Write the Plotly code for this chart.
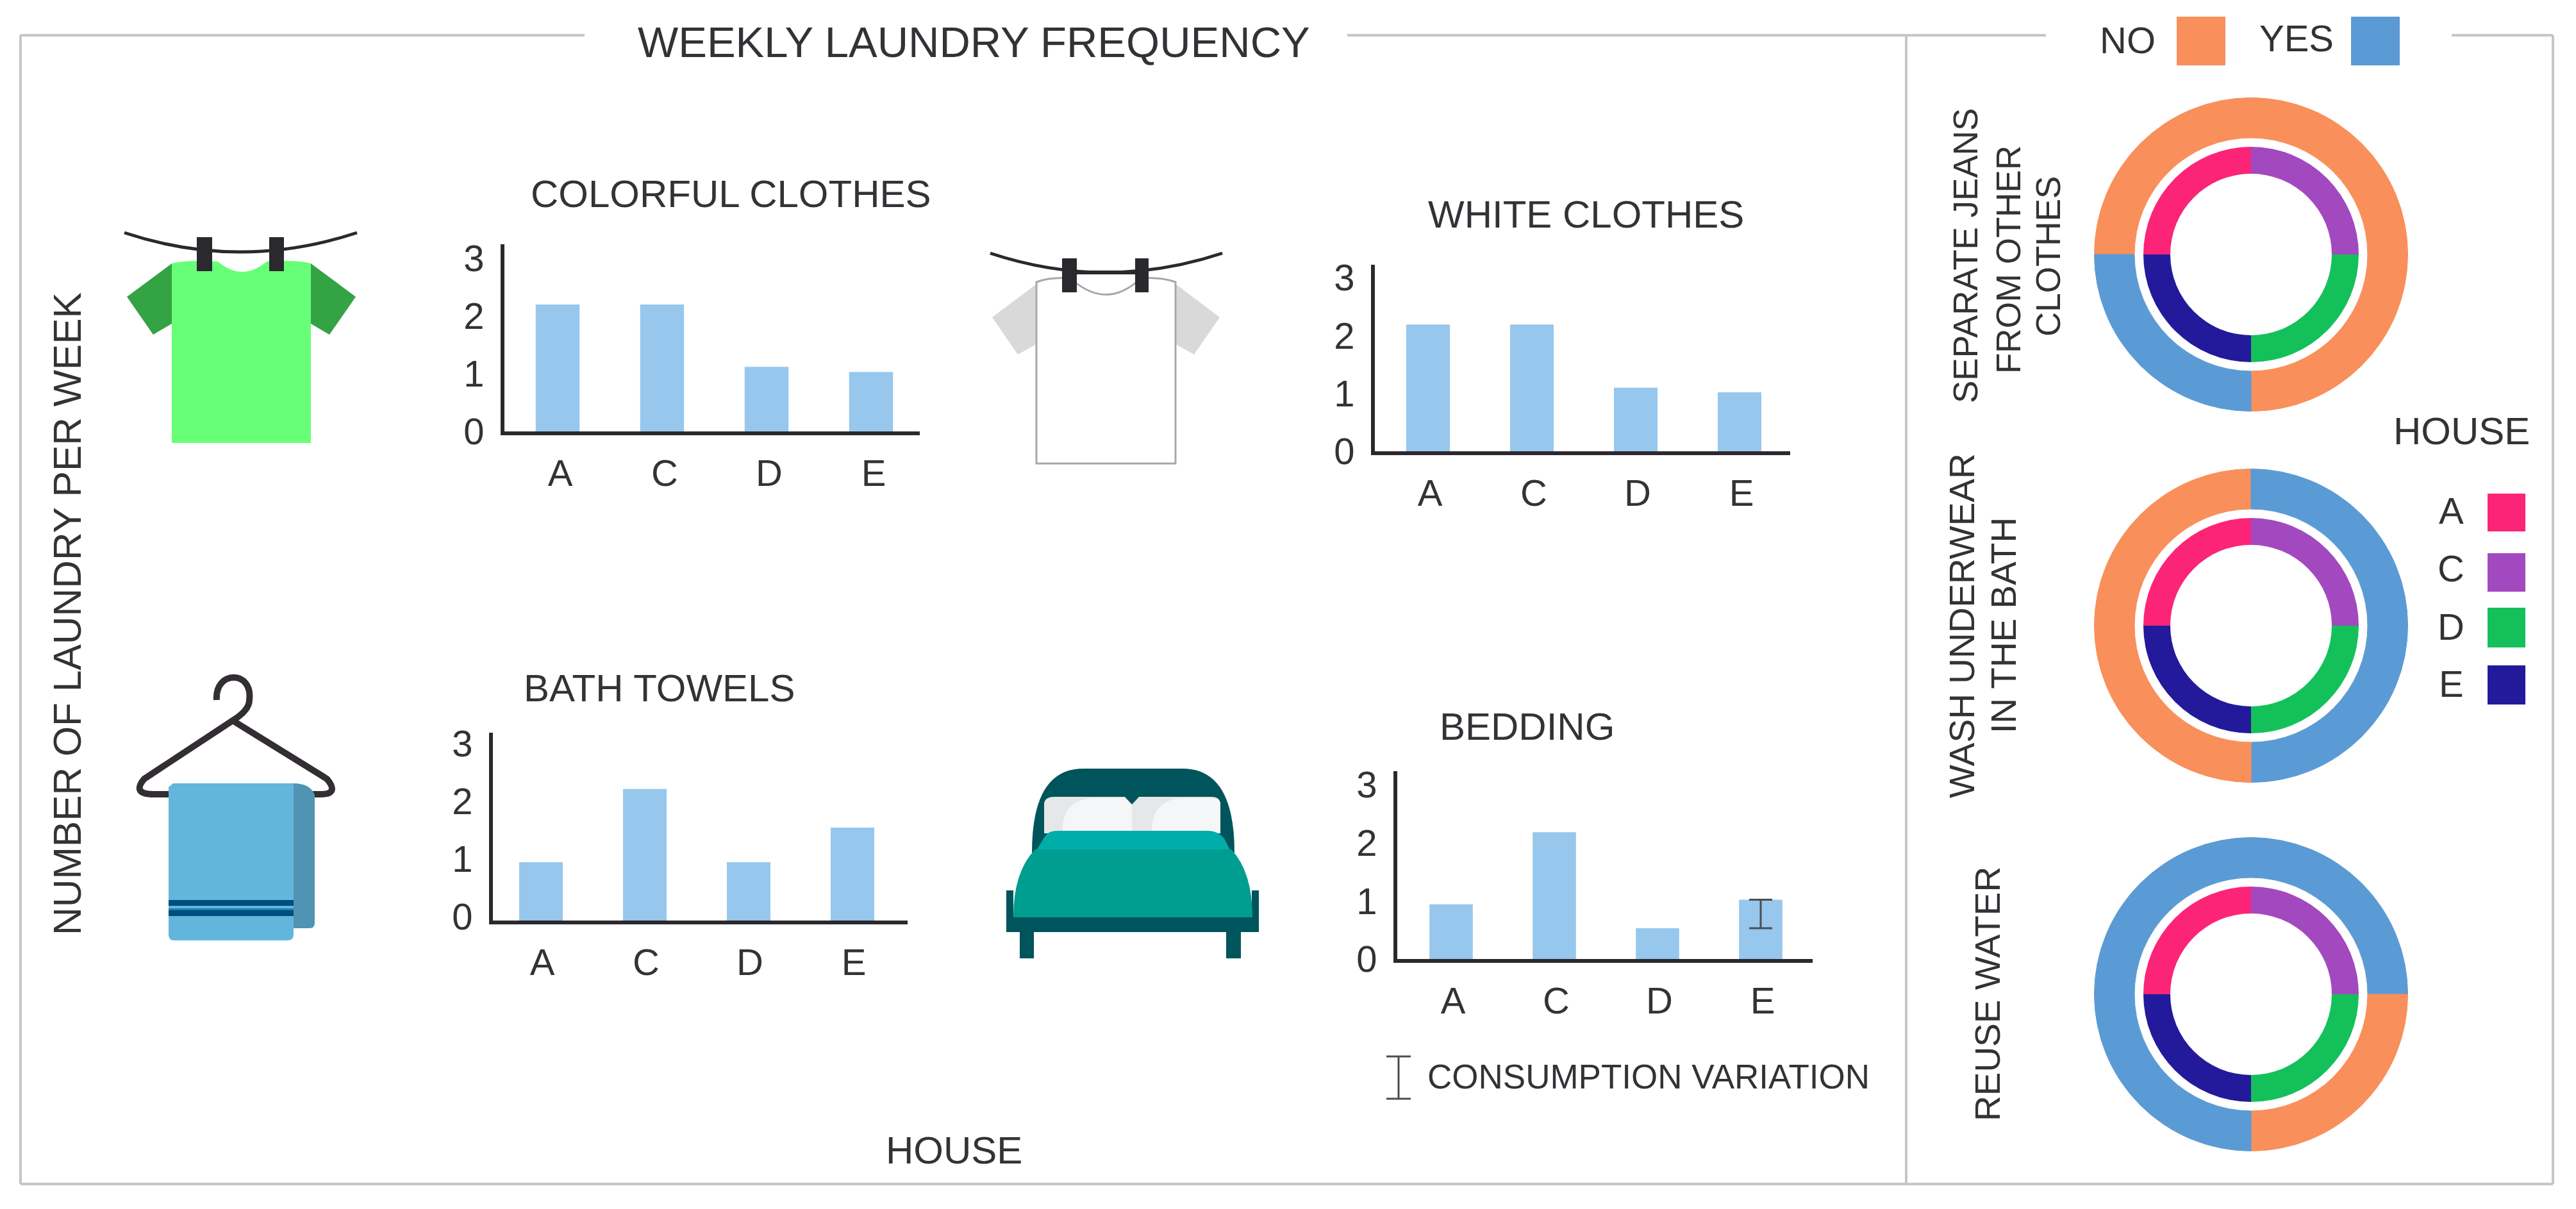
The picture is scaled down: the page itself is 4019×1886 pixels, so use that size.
import plotly.graph_objects as go

W, H = 4019, 1886

# ---------- data ----------
HOUSES = ["A", "C", "D", "E"]
TICKS = [0, 1, 2, 3]
COLORFUL_CLOTHES = [2.20, 2.20, 1.12, 1.03]
WHITE_CLOTHES = [2.19, 2.19, 1.10, 1.02]
BATH_TOWELS = [1.01, 2.28, 1.01, 1.61]
BEDDING = [0.94, 2.18, 0.53, 1.02]
VARIATION_HOUSE = ["E"]
VARIATION_TOP = [1.02]
VARIATION_DOWN = [0.49]
VARIATION_UP = [0.0]

HOUSE_SHARE = [1, 1, 1, 1]
SEPARATE_JEANS = ["NO", "NO", "NO", "YES"]
WASH_UNDERWEAR = ["NO", "YES", "YES", "NO"]
REUSE_WATER = ["YES", "YES", "NO", "YES"]

# ---------- styles ----------
INK = "#333236"
AXIS = "#2b292d"
BAR = "#97c7ec"
FRAME = "#c6c6c6"
ANSWER_COLOR = {"NO": "#f98f5b", "YES": "#5b9bd5"}
HOUSE_COLOR = ["#fc2477", "#a349bf", "#14c05a", "#221a9b"]
FONT = "Liberation Sans"


def nx(x):
    return x / W


def ny(y):
    return 1 - y / H


def pt(x, y):
    return f"{nx(x):.6f},{ny(y):.6f}"


shapes = []


def rect(x0, y0, x1, y1, color):
    shapes.append(dict(type="rect", xref="paper", yref="paper", x0=nx(x0), x1=nx(x1),
                       y0=ny(y1), y1=ny(y0), fillcolor=color, line=dict(width=0)))


def line(x0, y0, x1, y1, color, width):
    shapes.append(dict(type="line", xref="paper", yref="paper", x0=nx(x0), x1=nx(x1),
                       y0=ny(y0), y1=ny(y1), line=dict(color=color, width=width)))


def path(cmds, fill=None, stroke=None, width=0):
    """cmds: list of (letter, x, y, ...) in pixels."""
    parts = []
    for c in cmds:
        if c[0] == "Z":
            parts.append("Z")
            continue
        coords = c[1:]
        if c[0] == "L":
            for i in range(0, len(coords), 2):
                parts.append("L" + pt(coords[i], coords[i + 1]))
            continue
        pairs = " ".join(pt(coords[i], coords[i + 1]) for i in range(0, len(coords), 2))
        parts.append(f"{c[0]}{pairs}")
    shapes.append(dict(type="path", xref="paper", yref="paper", path=" ".join(parts),
                       fillcolor=fill if fill else "rgba(0,0,0,0)",
                       line=dict(color=stroke if stroke else "rgba(0,0,0,0)", width=width)))


annotations = []


def label(text, x, y, size, angle=0):
    annotations.append(dict(text=text, x=nx(x), y=ny(y), xref="paper", yref="paper",
                            xanchor="center", yanchor="middle", showarrow=False,
                            textangle=angle, font=dict(family=FONT, size=size, color=INK)))


# ---------- frame ----------
line(32, 55, 912, 55, FRAME, 4)
line(2102, 55, 3192, 55, FRAME, 4)
line(3825, 55, 3983, 55, FRAME, 4)
line(32, 55, 32, 1847, FRAME, 4)
line(3983, 55, 3983, 1847, FRAME, 4)
line(32, 1847, 3983, 1847, FRAME, 4)
line(2974, 55, 2974, 1847, FRAME, 4)

# ---------- bar panels ----------
panels = [
    dict(name="COLORFUL CLOTHES", values=COLORFUL_CLOTHES, x0=787, x1=1435, top=381, base=673, unit=90.0,
         c0=870, step=163, shift=4, yshift=0, tx=1140, ty=302),
    dict(name="WHITE CLOTHES", values=WHITE_CLOTHES, x0=2145, x1=2793, top=413, base=704, unit=90.3,
         c0=2228, step=162, shift=3, yshift=0, tx=2474, ty=334),
    dict(name="BATH TOWELS", values=BATH_TOWELS, x0=769, x1=1416, top=1143, base=1436, unit=90.0,
         c0=844, step=162, shift=2, yshift=6, tx=1028, ty=1073),
    dict(name="BEDDING", values=BEDDING, x0=2180, x1=2828, top=1203, base=1496, unit=90.7,
         c0=2264, step=161, shift=3, yshift=0, tx=2382, ty=1133),
]

fig = go.Figure()
layout_axes = {}
for i, p in enumerate(panels, start=1):
    sfx = "" if i == 1 else str(i)
    fig.add_trace(go.Bar(x=HOUSES, y=p["values"], name=p["name"], width=0.42,
                         marker=dict(color=BAR, line=dict(width=0)),
                         xaxis=f"x{sfx}", yaxis=f"y{sfx}", hoverinfo="skip"))
    if p["name"] == "BEDDING":
        fig.add_trace(go.Scatter(x=VARIATION_HOUSE, y=VARIATION_TOP, mode="markers",
                                 marker=dict(size=1, opacity=0), hoverinfo="skip",
                                 xaxis=f"x{sfx}", yaxis=f"y{sfx}",
                                 error_y=dict(type="data", symmetric=False, array=VARIATION_UP,
                                              arrayminus=VARIATION_DOWN, color="#4d4d50",
                                              thickness=3, width=18)))
    layout_axes[f"xaxis{sfx}"] = dict(
        domain=[nx(p["x0"]), nx(p["x1"])], anchor=f"y{sfx}", type="category",
        categoryorder="array", categoryarray=HOUSES,
        range=[(p["x0"] - p["c0"]) / p["step"], (p["x1"] - p["c0"]) / p["step"]],
        showline=True, linecolor=AXIS, linewidth=6, showgrid=False, zeroline=False,
        ticks="outside", ticklen=9, tickcolor="rgba(0,0,0,0)", ticklabelshift=p["shift"],
        tickfont=dict(family=FONT, size=58, color=INK))
    layout_axes[f"yaxis{sfx}"] = dict(
        domain=[ny(p["base"]), ny(p["top"])], anchor=f"x{sfx}",
        range=[0, (p["base"] - p["top"]) / p["unit"]], tickmode="array", tickvals=TICKS,
        ticktext=[str(t) for t in TICKS],
        showline=True, linecolor=AXIS, linewidth=6, showgrid=False, zeroline=False,
        ticks="outside", ticklen=14, tickcolor="rgba(0,0,0,0)", ticklabelshift=-p["yshift"],
        tickfont=dict(family=FONT, size=58, color=INK))
    label(p["name"], p["tx"], p["ty"], 60)

# ---------- donuts ----------
donuts = [(SEPARATE_JEANS, 397), (WASH_UNDERWEAR, 976), (REUSE_WATER, 1551)]
CX = 3512
for answers, cy in donuts:
    R = 244.5
    colors = [ANSWER_COLOR[a] for a in answers]
    fig.add_trace(go.Pie(values=HOUSE_SHARE, labels=HOUSES, sort=False, direction="clockwise", rotation=270,
                         hole=182 / R, textinfo="none", hoverinfo="skip", showlegend=False,
                         marker=dict(colors=colors, line=dict(width=1, color=colors)),
                         domain=dict(x=[nx(CX - R), nx(CX + R)], y=[ny(cy + R), ny(cy - R)])))
    r = 168
    fig.add_trace(go.Pie(values=HOUSE_SHARE, labels=HOUSES, sort=False, direction="clockwise", rotation=270,
                         hole=126 / r, textinfo="none", hoverinfo="skip", showlegend=False,
                         marker=dict(colors=HOUSE_COLOR, line=dict(width=0)),
                         domain=dict(x=[nx(CX - r), nx(CX + r)], y=[ny(cy + r), ny(cy - r)])))

# ---------- texts ----------
label("WEEKLY LAUNDRY FREQUENCY", 1519, 66, 67)
label("NUMBER OF LAUNDRY PER WEEK", 105, 958, 60.5, -90)
label("HOUSE", 1488, 1794, 60)
label("CONSUMPTION VARIATION", 2572, 1679, 53)
label("SEPARATE JEANS", 3067, 399, 53, -90)
label("FROM OTHER", 3133, 405, 53, -90)
label("CLOTHES", 3195, 400, 53, -90)
label("WASH UNDERWEAR", 3061, 976, 55, -90)
label("IN THE BATH", 3126, 976, 55, -90)
label("REUSE WATER", 3101, 1551, 55, -90)
label("NO", 3319, 62, 58)
label("YES", 3583, 60, 58)
label("HOUSE", 3840, 672, 60)
for h, y in zip(HOUSES, [797, 886, 977, 1066]):
    label(h, 3824, y, 58)

# ---------- legend swatches ----------
rect(3396, 26, 3472, 102, ANSWER_COLOR["NO"])
rect(3668, 26, 3744, 102, ANSWER_COLOR["YES"])
for c, (y0, y1) in zip(HOUSE_COLOR, [(770, 829), (863, 923), (948, 1010), (1038, 1099)]):
    rect(3881, y0, 3940, y1, c)

# variation key
line(2182, 1648, 2182, 1714, "#4d4d50", 3)
line(2163, 1648, 2201, 1648, "#4d4d50", 3)
line(2163, 1714, 2201, 1714, "#4d4d50", 3)

# ---------- icon: colourful shirt ----------
path([("M", 268, 411), ("L", 198, 463, 239, 522, 268, 505), ("Z",)], fill="#34a344")
path([("M", 485, 411), ("L", 555, 463, 514, 522, 485, 505), ("Z",)], fill="#34a344")
path([("M", 268, 691), ("L", 268, 411), ("Q", 290, 405, 340, 408), ("Q", 378, 440, 416, 408),
      ("Q", 465, 405, 485, 411), ("L", 485, 691), ("Z",)], fill="#66ff77")
path([("M", 194, 363), ("Q", 375, 423, 557, 363)], stroke=AXIS, width=5)
rect(307, 370, 331, 423, AXIS)
rect(420, 370, 443, 423, AXIS)

# ---------- icon: white shirt ----------
path([("M", 1617, 443), ("L", 1548, 495, 1588, 553, 1617, 537), ("Z",)], fill="#d9d9d9")
path([("M", 1834, 443), ("L", 1903, 495, 1863, 553, 1834, 537), ("Z",)], fill="#d9d9d9")
path([("M", 1617, 723), ("L", 1617, 440), ("Q", 1640, 432, 1670, 434), ("Q", 1726, 485, 1780, 434),
      ("Q", 1810, 432, 1834, 440), ("L", 1834, 723), ("Z",)], fill="#ffffff", stroke="#a8a8a8", width=3)
path([("M", 1545, 395), ("Q", 1726, 455, 1907, 395)], stroke=AXIS, width=5)
line(1657, 425, 1792, 425, AXIS, 6)
rect(1657, 403, 1680, 456, AXIS)
rect(1771, 403, 1792, 456, AXIS)

# ---------- icon: towel on a hanger ----------
path([("M", 338, 1092), ("C", 335, 1045, 395, 1045, 389, 1092), ("Q", 389, 1108, 363, 1124),
      ("L", 225, 1215), ("Q", 205, 1239, 240, 1239), ("L", 500, 1239), ("Q", 530, 1239, 510, 1215),
      ("L", 363, 1124)], stroke="#332e33", width=10)
path([("M", 458, 1222), ("Q", 484, 1222, 491, 1240), ("L", 491, 1440), ("Q", 491, 1448, 483, 1448),
      ("L", 458, 1448), ("Z",)], fill="#5193b3")
path([("M", 270, 1222), ("L", 458, 1222), ("L", 458, 1458), ("Q", 458, 1467, 448, 1467), ("L", 272, 1467),
      ("Q", 263, 1467, 263, 1458), ("L", 263, 1228), ("Z",)], fill="#62b6db")
rect(263, 1404, 458, 1413, "#004d80")
rect(263, 1417, 458, 1429, "#1f7fb0")
rect(263, 1420, 458, 1429, "#004d80")

# ---------- icon: bed ----------
path([("M", 1610, 1330), ("Q", 1610, 1199, 1690, 1199), ("L", 1845, 1199), ("Q", 1926, 1199, 1926, 1330),
      ("Z",)], fill="#00545c")
path([("M", 1629, 1300), ("L", 1629, 1255), ("Q", 1629, 1243, 1645, 1243), ("L", 1755, 1243),
      ("L", 1766, 1255), ("L", 1777, 1243), ("L", 1890, 1243), ("Q", 1904, 1243, 1904, 1255),
      ("L", 1904, 1300), ("Z",)], fill="#e6e7e8")
path([("M", 1658, 1300), ("Q", 1655, 1245, 1710, 1245), ("L", 1755, 1245), ("L", 1766, 1255), ("L", 1766, 1300),
      ("Z",)], fill="#f5f6f7")
path([("M", 1797, 1300), ("Q", 1795, 1245, 1850, 1245), ("L", 1890, 1245), ("Q", 1904, 1245, 1904, 1255),
      ("L", 1904, 1300), ("Z",)], fill="#f5f6f7")
rect(1570, 1431, 1964, 1454, "#00545c")
rect(1591, 1454, 1613, 1495, "#00545c")
rect(1913, 1454, 1936, 1495, "#00545c")
rect(1570, 1389, 1581, 1431, "#00545c")
rect(1953, 1389, 1964, 1431, "#00545c")
path([("M", 1615, 1330), ("L", 1630, 1305), ("Q", 1636, 1296, 1650, 1296), ("L", 1885, 1296),
      ("Q", 1900, 1296, 1910, 1308), ("L", 1921, 1330), ("Z",)], fill="#00ada8")
path([("M", 1581, 1431), ("Q", 1581, 1360, 1615, 1325), ("L", 1921, 1325), ("Q", 1954, 1360, 1954, 1431),
      ("Z",)], fill="#009e91")

fig.update_layout(
    width=W, height=H, autosize=False,
    margin=dict(l=0, r=0, t=0, b=0, pad=0, autoexpand=False),
    paper_bgcolor="#ffffff", plot_bgcolor="rgba(0,0,0,0)",
    showlegend=False, bargap=0.58,
    font=dict(family=FONT, color=INK),
    shapes=shapes, annotations=annotations,
    **layout_axes,
)

fig.write_html("out.html", config=dict(displayModeBar=False),
               post_script="document.body.style.margin='0';document.body.style.overflow='hidden';")
